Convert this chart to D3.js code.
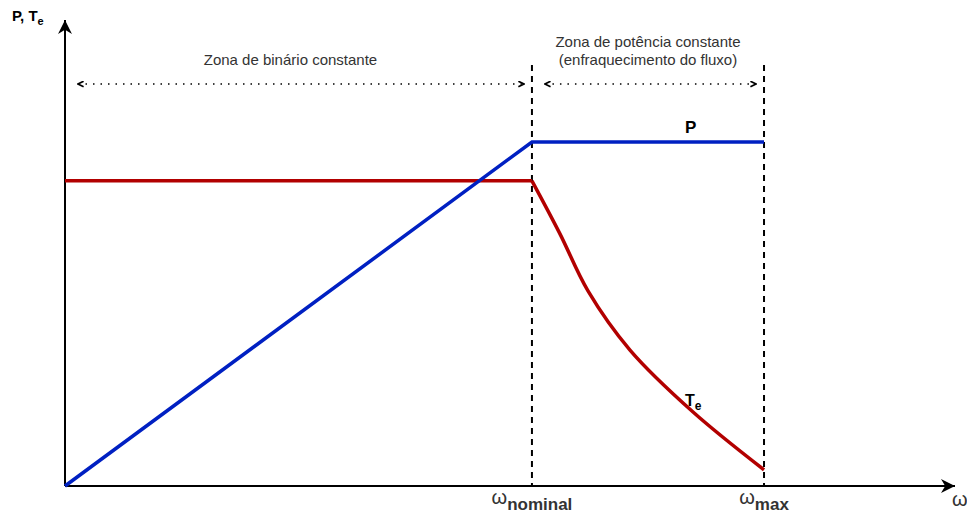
<!DOCTYPE html>
<html>
<head>
<meta charset="utf-8">
<script src="https://cdn.jsdelivr.net/npm/d3@7"></script>
<style>
  body { margin: 0; background: #fff; }
  text { font-family: "Liberation Sans", Arial, Helvetica, sans-serif; }
</style>
</head>
<body>
<svg width="967" height="513"></svg>
<script>
const svg = d3.select("svg");

// speed in per-unit of nominal speed
const axisMaxOmega = 1.906;
const markerNames = ['nominal', 'max'];
const markerOmega = [1, 1.497];

// power curve
const pOmega = [0, 1, 1.497];
const pValues = [0, 1, 1];

// torque: constant region, then flux-weakening region
const teFlatOmega = [0, 1];
const teFlatValues = [0.887, 0.887];
const teFallOmega = [1, 1.06, 1.12, 1.21, 1.345, 1.497];
const teFallValues = [0.887, 0.733, 0.567, 0.395, 0.215, 0.047];

const zoneLabels = [
    ['Zona de binário constante'],
    ['Zona de potência constante', '(enfraquecimento do fluxo)']
];

const xScale = d3.scaleLinear().domain([0, axisMaxOmega]).range([65, 955]);
const yScale = d3.scaleLinear().domain([0, 1]).range([486, 142]);

// arrow markers
const defs = svg.append('defs');
defs.append('marker')
    .attr('id', 'axisArrow')
    .attr('viewBox', '0 0 10 10')
    .attr('refX', 10).attr('refY', 5)
    .attr('markerWidth', 14).attr('markerHeight', 14)
    .attr('markerUnits', 'userSpaceOnUse')
    .attr('orient', 'auto')
    .append('path')
    .attr('d', 'M0,0 L10,5 L0,10 L3,5 Z')
    .attr('fill', 'black');

defs.append('marker')
    .attr('id', 'openArrow')
    .attr('viewBox', '0 0 10 10')
    .attr('refX', 9).attr('refY', 5)
    .attr('markerWidth', 7).attr('markerHeight', 7)
    .attr('markerUnits', 'userSpaceOnUse')
    .attr('orient', 'auto-start-reverse')
    .append('path')
    .attr('d', 'M1,1 L9,5 L1,9')
    .attr('fill', 'none')
    .attr('stroke', 'black')
    .attr('stroke-width', 2.4);

// axes
svg.append('line')
    .attr('x1', xScale(0)).attr('y1', yScale(0))
    .attr('x2', xScale(axisMaxOmega)).attr('y2', yScale(0))
    .attr('stroke', 'black').attr('stroke-width', 2)
    .attr('marker-end', 'url(#axisArrow)');

svg.append('line')
    .attr('x1', xScale(0)).attr('y1', yScale(0))
    .attr('x2', xScale(0)).attr('y2', 20)
    .attr('stroke', 'black').attr('stroke-width', 2)
    .attr('marker-end', 'url(#axisArrow)');

// dashed verticals
svg.selectAll('.marker-line')
    .data(markerOmega)
    .enter().append('line')
    .attr('class', 'marker-line')
    .attr('x1', d => xScale(d)).attr('x2', d => xScale(d))
    .attr('y1', 65).attr('y2', yScale(0))
    .attr('stroke', 'black')
    .attr('stroke-width', 2)
    .attr('stroke-dasharray', '6,5');

// zone arrows
const zoneBounds = [[0, markerOmega[0]], [markerOmega[0], markerOmega[1]]];
svg.selectAll('.zone-arrow')
    .data(zoneBounds)
    .enter().append('line')
    .attr('class', 'zone-arrow')
    .attr('x1', d => xScale(d[0]) + 13)
    .attr('x2', d => xScale(d[1]) - 8)
    .attr('y1', 84).attr('y2', 84)
    .attr('stroke', 'black')
    .attr('stroke-width', 1.5)
    .attr('stroke-dasharray', '1.5,6')
    .attr('marker-start', 'url(#openArrow)')
    .attr('marker-end', 'url(#openArrow)');

const labelShift = [-8, 0];
zoneLabels.forEach((lines, i) => {
    const cx = (xScale(zoneBounds[i][0]) + xScale(zoneBounds[i][1])) / 2 + labelShift[i];
    const t = svg.append('text')
        .attr('text-anchor', 'middle')
        .attr('font-size', 15)
        .attr('fill', '#333');
    const y0 = 65 - (lines.length - 1) * 18;
    lines.forEach((l, j) => {
        t.append('tspan').attr('x', cx).attr('y', y0 + j * 18).text(l);
    });
});

// curves
const line = d3.line()
    .x(d => xScale(d[0]))
    .y(d => yScale(d[1]));

svg.append('path')
    .datum(teFlatOmega.map((w, i) => [w, teFlatValues[i]]))
    .attr('d', line.curve(d3.curveLinear))
    .attr('fill', 'none')
    .attr('stroke', '#b20000')
    .attr('stroke-width', 3.5);

svg.append('path')
    .datum(teFallOmega.map((w, i) => [w, teFallValues[i]]))
    .attr('d', line.curve(d3.curveCatmullRom.alpha(0.5)))
    .attr('fill', 'none')
    .attr('stroke', '#b20000')
    .attr('stroke-width', 3.5);

svg.append('path')
    .datum(pOmega.map((w, i) => [w, pValues[i]]))
    .attr('d', line.curve(d3.curveLinear))
    .attr('fill', 'none')
    .attr('stroke', '#0020c2')
    .attr('stroke-width', 3.5);

// curve labels
svg.append('text')
    .attr('x', 685).attr('y', 133)
    .attr('font-size', 17).attr('font-weight', 'bold')
    .text('P');

const teLabel = svg.append('text')
    .attr('x', 685).attr('y', 406)
    .attr('font-size', 16).attr('font-weight', 'bold');
teLabel.append('tspan').text('T');
teLabel.append('tspan').attr('font-size', 12).attr('dy', 4).text('e');

// axis labels
const yLabel = svg.append('text')
    .attr('x', 12).attr('y', 21)
    .attr('font-size', 15).attr('font-weight', 'bold');
yLabel.append('tspan').text('P, T');
yLabel.append('tspan').attr('font-size', 11).attr('dy', 4).text('e');

svg.selectAll('.omega-label')
    .data(markerNames)
    .enter().append('text')
    .attr('class', 'omega-label')
    .attr('x', (d, i) => xScale(markerOmega[i]))
    .attr('y', 504)
    .attr('text-anchor', 'middle')
    .attr('fill', '#333')
    .each(function (d) {
        const t = d3.select(this);
        t.append('tspan').attr('font-size', 20).text('ω');
        t.append('tspan').attr('font-size', 17).attr('font-weight', 'bold').attr('dy', 6).text(d);
    });

svg.append('text')
    .attr('x', 952).attr('y', 506)
    .attr('font-size', 20)
    .attr('fill', '#333')
    .text('ω');
</script>
</body>
</html>
